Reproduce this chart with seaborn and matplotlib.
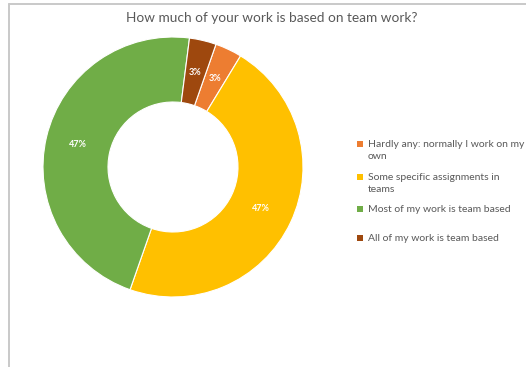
import matplotlib
matplotlib.use("Agg")
import matplotlib.pyplot as plt
from matplotlib.patches import Rectangle
from matplotlib.lines import Line2D
import seaborn as sns

# ---- data ----
categories = [
    "Hardly any: normally I work on my\nown",
    "Some specific assignments in\nteams",
    "Most of my work is team based",
    "All of my work is team based",
]
counts = [1, 14, 14, 1]
colors = ["#ED7D31", "#FFC000", "#70AD47", "#9E480E"]
title = "How much of your work is based on team work?"

sns.set_theme(style="white")
plt.rcParams["font.family"] = ["Lato", "DejaVu Sans"]

W, H = 526, 367
fig = plt.figure(figsize=(W / 100, H / 100), dpi=100)
fig.patch.set_facecolor("white")

def fx(x):
    return x / W

def fy(y):
    return 1 - y / H

# chart frame (left and top border)
fig.add_artist(Line2D([fx(8.5), fx(8.5)], [fy(3.5), fy(H)], color="#c9c9c9", lw=1.4, transform=fig.transFigure))
fig.add_artist(Line2D([fx(8.5), fx(W)], [fy(3.5), fy(3.5)], color="#c9c9c9", lw=1.4, transform=fig.transFigure))

# donut
cx, cy, R = 173, 167, 130
ax = fig.add_axes([fx(cx - R), fy(cy + R), 2 * R / W, 2 * R / H])
palette = sns.color_palette(colors)
wedges, texts, autotexts = ax.pie(
    counts,
    colors=palette,
    startangle=70.7,
    counterclock=False,
    radius=1,
    autopct=lambda p: f"{p:.0f}%",
    pctdistance=0.75,
    wedgeprops=dict(width=0.5, edgecolor="white", linewidth=0.8),
    textprops=dict(color="white", fontsize=6.5, fontweight="bold"),
)
ax.set_xlim(-1, 1)
ax.set_ylim(-1, 1)
ax.axis("off")

# title
fig.text(fx(271.5), fy(18), title, ha="center", va="center", fontsize=9.8, color="#595959")

# legend
marker_y = [144, 177, 209, 238]
for lab, col, my in zip(categories, colors, marker_y):
    fig.add_artist(Rectangle((fx(357), fy(my + 3)), 6 / W, 6 / H, facecolor=col,
                             edgecolor="none", transform=fig.transFigure))
    fig.text(fx(367.5), fy(my - 4), lab, ha="left", va="top", fontsize=7.5,
             color="#595959", linespacing=1.45)

fig.savefig("out.png", dpi=100, facecolor="white")
